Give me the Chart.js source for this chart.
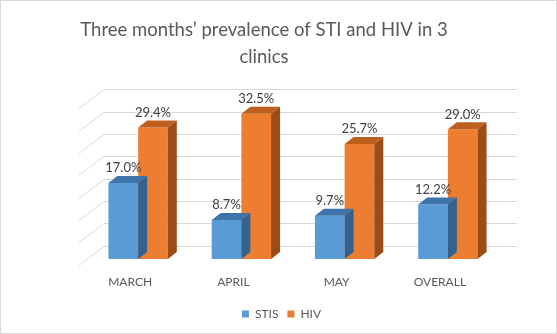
<!DOCTYPE html>
<html>
<head>
<meta charset="utf-8">
<script src="https://cdn.jsdelivr.net/npm/chart.js@4.4.1/dist/chart.umd.min.js"></script>
<style>
html,body{margin:0;padding:0;background:#fff;}
#wrap{width:557px;height:334px;position:relative;}
</style>
</head>
<body>
<div id="wrap"><canvas id="c" width="557" height="334"></canvas></div>
<script>
const categories = ['MARCH', 'APRIL', 'MAY', 'OVERALL'];
const stisValues = [17.0, 8.7, 9.7, 12.2];
const hivValues = [29.4, 32.5, 25.7, 29.0];
const yTicks = [0, 5, 10, 15, 20, 25, 30, 35];
const titleLines = ['Three months\u2019 prevalence of STI and HIV in 3', 'clinics'];

const FONT = 'Lato, "Open Sans", sans-serif';
const DEPTH_BACK = {dx: 17.4, dy: -13.2};   // bar plane -> back wall
const DEPTH_FRONT = {dx: -7.6, dy: 5.8};    // bar plane -> front edge
const BAR_DEPTH = {dx: 9, dy: -7};

const faces = [
  {top: '#3F74AB', side: '#34628F'},
  {top: '#BE5F1E', side: '#9C4C16'}
];

function centerBox(box, cx) {
  const w = box.right - box.left;
  box.left = cx - w / 2;
  box.right = cx + w / 2;
}

const threeD = {
  id: 'threeD',
  afterLayout(chart) {
    if (chart.titleBlock) centerBox(chart.titleBlock, 264);
    if (chart.legend) centerBox(chart.legend, 281.5);
  },
  beforeDraw(chart) {
    const ctx = chart.ctx;
    ctx.save();
    ctx.fillStyle = '#fff';
    ctx.fillRect(0, 0, chart.width, chart.height);
    ctx.strokeStyle = '#D9D9D9';
    ctx.lineWidth = 1;
    ctx.strokeRect(0.5, 0.5, chart.width - 1, chart.height - 1);
    ctx.restore();
  },
  beforeDatasetsDraw(chart) {
    const ctx = chart.ctx, y = chart.scales.y, a = chart.chartArea;
    ctx.save();
    ctx.strokeStyle = '#D9D9D9';
    ctx.lineWidth = 1;
    yTicks.forEach(v => {
      const py = Math.round(y.getPixelForValue(v) + DEPTH_BACK.dy) + 0.5;
      const bx = a.left + DEPTH_BACK.dx;
      ctx.beginPath();
      ctx.moveTo(bx, py);
      ctx.lineTo(a.right + DEPTH_BACK.dx, py);
      ctx.stroke();
      ctx.beginPath();
      ctx.moveTo(bx, py);
      ctx.lineTo(a.left + DEPTH_FRONT.dx, py + (DEPTH_FRONT.dy - DEPTH_BACK.dy));
      ctx.stroke();
    });
    ctx.restore();
  },
  afterDatasetDraw(chart, args) {
    const ctx = chart.ctx;
    const meta = args.meta;
    const f = faces[args.index];
    ctx.save();
    meta.data.forEach(el => {
      const p = el.getProps(['x', 'y', 'base', 'width'], true);
      const l = p.x - p.width / 2, r = p.x + p.width / 2, t = p.y, b = p.base;
      const dx = BAR_DEPTH.dx, dy = BAR_DEPTH.dy;
      ctx.fillStyle = f.top;
      ctx.beginPath();
      ctx.moveTo(l, t); ctx.lineTo(l + dx, t + dy); ctx.lineTo(r + dx, t + dy); ctx.lineTo(r, t);
      ctx.closePath(); ctx.fill();
      ctx.fillStyle = f.side;
      ctx.beginPath();
      ctx.moveTo(r, t); ctx.lineTo(r + dx, t + dy); ctx.lineTo(r + dx, b + dy); ctx.lineTo(r, b);
      ctx.closePath(); ctx.fill();
    });
    ctx.restore();
  },
  afterDatasetsDraw(chart) {
    const ctx = chart.ctx;
    ctx.save();
    ctx.font = '13px ' + FONT;
    ctx.fillStyle = '#404040';
    ctx.textAlign = 'center';
    ctx.textBaseline = 'middle';
    chart.data.datasets.forEach((ds, i) => {
      chart.getDatasetMeta(i).data.forEach((el, j) => {
        const p = el.getProps(['x', 'y'], true);
        ctx.fillText(ds.data[j].toFixed(1) + '%', p.x, p.y - 15);
      });
    });
    ctx.restore();
  }
};

new Chart(document.getElementById('c'), {
  type: 'bar',
  data: {
    labels: categories,
    datasets: [
      {label: 'STIS', data: stisValues, backgroundColor: '#5B9BD5', borderWidth: 0},
      {label: 'HIV', data: hivValues, backgroundColor: '#ED7D31', borderWidth: 0}
    ]
  },
  options: {
    responsive: false,
    animation: false,
    devicePixelRatio: 1,
    layout: {padding: {left: 86.5, right: 57.5, top: 0, bottom: 4}},
    datasets: {bar: {categoryPercentage: 0.575, barPercentage: 1}},
    scales: {
      x: {
        grid: {display: false, drawTicks: false},
        border: {display: false},
        ticks: {color: '#595959', font: {family: FONT, size: 12}, padding: 16, labelOffset: -8},
        afterFit(s) { s.height = 40; }
      },
      y: {display: false, min: 0, max: 35}
    },
    plugins: {
      title: {
        display: true,
        text: titleLines,
        color: '#595959',
        font: {family: FONT, size: 18.5, weight: 'normal', lineHeight: 1.46},
        padding: {top: 16.5, bottom: 32}
      },
      legend: {
        position: 'bottom',
        labels: {boxWidth: 7, boxHeight: 7, color: '#595959', font: {family: FONT, size: 12}, padding: 9}
      },
      tooltip: {enabled: false}
    }
  },
  plugins: [threeD]
});
</script>
</body>
</html>
